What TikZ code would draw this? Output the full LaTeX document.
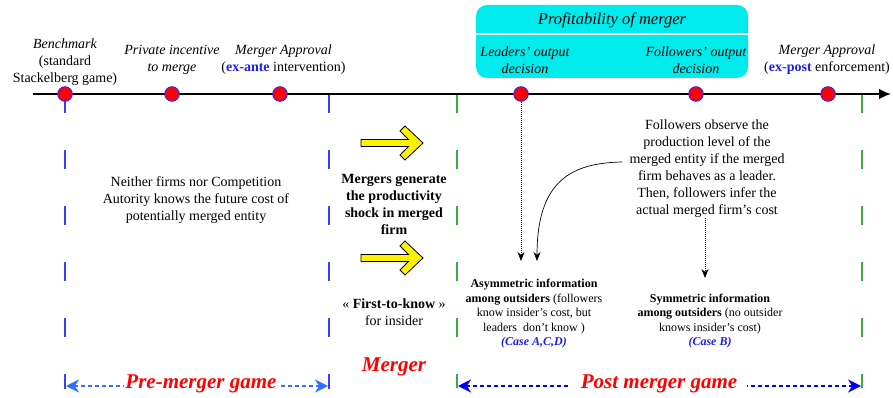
\documentclass[tikz,border=0pt]{standalone}
\usepackage{fontspec}
\setmainfont{Liberation Serif}
\usetikzlibrary{arrows.meta}
\definecolor{dotblue}{RGB}{40,40,255}
\definecolor{bline}{RGB}{60,60,255}
\definecolor{gline}{RGB}{60,170,60}
\definecolor{cyanbox}{RGB}{0,235,235}
\definecolor{preblue}{RGB}{50,110,255}
\definecolor{postblue}{RGB}{0,0,245}
\definecolor{exblue}{RGB}{30,30,230}
\tikzset{
  dot/.style={circle,fill=red,draw=dotblue,line width=1pt,minimum size=14.5pt,inner sep=0pt},
  bdash/.style={draw=bline,line width=2.4pt,dash pattern=on 19pt off 37pt},
  gdash/.style={draw=gline,line width=2.4pt,dash pattern=on 19pt off 37pt},
  txt/.style={align=center,inner sep=0pt,font=\fontsize{14}{17}\selectfont},
  itxt/.style={align=center,inner sep=0pt,font=\fontsize{14}{17}\selectfont\itshape},
  stxt/.style={align=center,inner sep=0pt,font=\fontsize{12}{14.5}\selectfont},
  big/.style={inner sep=0pt,font=\fontsize{21}{24}\selectfont\bfseries\itshape,text=red},
  yarrow/.style={fill=yellow,draw=black,line width=0.8pt,line join=miter},
  thin/.style={draw=black,line width=0.7pt,-{Stealth[length=9pt,width=7pt]}},
  dotthin/.style={thin,dash pattern=on 1pt off 1pt},
  prearrow/.style={draw=preblue,line width=2.5pt,dash pattern=on 4pt off 3pt,{Stealth[length=13pt,width=13pt,fill=preblue]}-},
  postarrow/.style={draw=postblue,line width=2.5pt,dash pattern=on 4pt off 3pt,{Stealth[length=13pt,width=13pt,fill=postblue]}-},
}
\begin{document}
\begin{tikzpicture}[x=1pt,y=-1pt]
\useasboundingbox (0,0) rectangle (893,398);
% cyan box
\node[draw=none,fill=cyanbox,rounded corners=11pt,minimum width=272pt,minimum height=73pt,inner sep=0pt] (cbox) at (612,41.5) {};
\coordinate (cl) at (476,34);
\coordinate (cr) at (748,34);
\draw[white,line width=1.5pt] (cl) -- (cr);
\node[inner sep=0pt,font=\fontsize{16.5}{19}\selectfont\itshape] (prof) at (612,20) {Profitability of merger};
% vertical dashed lines
\coordinate (b1t) at (65,94);  \coordinate (b1b) at (65,389);
\coordinate (b2t) at (329,94); \coordinate (b2b) at (329,389);
\coordinate (g1t) at (457,94); \coordinate (g1b) at (457,388);
\coordinate (g2t) at (862,94); \coordinate (g2b) at (862,388);
\draw[bdash] (b1t) -- (b1b);
\draw[bdash] (b2t) -- (b2b);
\draw[gdash] (g1t) -- (g1b);
\draw[gdash] (g2t) -- (g2b);
% timeline
\coordinate (tl0) at (33,94);
\coordinate (tl1) at (891,94);
\draw[line width=2.5pt,-{Latex[length=12pt,width=11pt]}] (tl0) -- (tl1);
\node[dot] (d1) at (65,94) {};
\node[dot] (d2) at (172,94) {};
\node[dot] (d3) at (280,94) {};
\node[dot] (d4) at (521,94) {};
\node[dot] (d5) at (696,94) {};
\node[dot] (d6) at (828,94) {};
% top labels
\node[txt] (l1) at (65,62) {\itshape Benchmark\\(standard\\Stackelberg game)};
\node[itxt] (l2) at (172,60) {Private incentive\\to merge};
\node[txt] (l3) at (283.5,60) {\itshape Merger Approval\\(\textcolor{exblue}{\bfseries ex-ante} intervention)};
\node[itxt] (l4) at (525,60) {Leaders' output\\decision};
\node[itxt] (l5) at (696,60) {Followers' output\\decision};
\node[txt] (l6) at (827,60) {\itshape Merger Approval\\(\textcolor{exblue}{\bfseries ex-post} enforcement)};
% left text
\node[txt] (neither) at (196,200) {Neither firms nor Competition\\Autority knows the future cost of\\potentially merged entity};
% middle
\draw[yarrow] (361,139.5) -- (408.5,139.5) -- (400,131) -- (405,126) -- (423,143) -- (405,160) -- (400,155) -- (408.5,146.5) -- (361,146.5) -- cycle;
\draw[yarrow] (361,254.5) -- (408.5,254.5) -- (400,246) -- (405,241) -- (423,258) -- (405,275) -- (400,270) -- (408.5,261.5) -- (361,261.5) -- cycle;
\node[txt,font=\fontsize{14}{17}\selectfont\bfseries] (mg) at (394,204) {Mergers generate\\the productivity\\shock in merged\\firm};
\node[txt] (ftk) at (394,312) {« \textbf{First-to-know} »\\for insider};
\node[big] (merger) at (394,367) {Merger};
% right text
\node[txt] (fobs) at (707,169) {Followers observe the\\production level of the\\merged entity if the merged\\firm behaves as a leader.\\Then, followers infer the\\actual merged firm’s cost};
\node[stxt] (asym) at (534,314) {\textbf{Asymmetric information}\\\textbf{among outsiders} (followers\\know insider’s cost, but\\leaders\ \ don’t know )\\\textcolor{exblue}{\bfseries\itshape (Case A,C,D)}};
\node[stxt] (sym) at (710,321) {\textbf{Symmetric information}\\\textbf{among outsiders} (no outsider\\knows insider’s cost)\\\textcolor{exblue}{\bfseries\itshape (Case B)}};
% connectors
\coordinate (la) at (521,261);
\draw[dotthin] (d4.south) -- (la);
\coordinate (cs) at (622,162);
\coordinate (ce) at (537,261);
\draw[thin] (cs) .. controls (572,163) and (537,180) .. (ce);
\coordinate (ss) at (705,218);
\coordinate (se) at (705,278);
\draw[dotthin] (ss) -- (se);
% bottom
\node[big] (pre) at (201,384) {Pre-merger game};
\node[big] (post) at (659,384) {Post merger game};
\coordinate (preL) at (66,386);
\coordinate (preR) at (328,386);
\coordinate (postL) at (458,386);
\coordinate (postR) at (861,386);
\draw[prearrow] (preL) -- ([xshift=-2pt]pre.west |- preL);
\draw[prearrow] (preR) -- ([xshift=2pt]pre.east |- preR);
\draw[postarrow] (postL) -- ([xshift=-10pt]post.west |- postL);
\draw[postarrow] (postR) -- ([xshift=10pt]post.east |- postR);
\end{tikzpicture}
\end{document}
